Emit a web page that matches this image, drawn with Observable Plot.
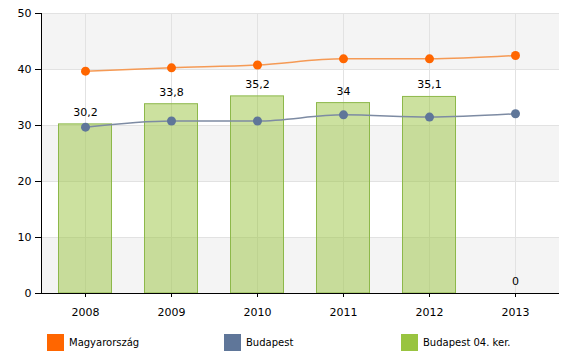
<!DOCTYPE html>
<html><head><meta charset="utf-8">
<script src="https://cdn.jsdelivr.net/npm/d3@7"></script>
<script src="https://cdn.jsdelivr.net/npm/@observablehq/plot@0.6"></script>
<style>
body{margin:0;background:#fff;font-family:"DejaVu Sans",Verdana,sans-serif;}
#wrap{position:relative;width:580px;height:363px;}
#wrap svg{position:absolute;left:0;top:0;}
.leg{position:absolute;top:334px;display:flex;align-items:center;font-size:10px;color:#000;height:17px}
.sw{width:17px;height:17px;margin-right:5px}
</style></head><body><div id="wrap"></div>
<script>
const years = ["2008","2009","2010","2011","2012","2013"];
const magyarorszag = [39.7,40.3,40.8,41.9,41.9,42.5];
const budapest = [29.7,30.8,30.8,31.9,31.5,32.1];
const kerulet = [30.2,33.8,35.2,34,35.1,0];
const yTicks = [0,10,20,30,40,50];
const seriesNames = ["Magyarország","Budapest","Budapest 04. ker."];
const seriesColors = ["#ff6600","#5f7699","#99c440"];
const legendX = [47,224,401];

const rows = years.map((y,i)=>({year:y, hu:magyarorszag[i], bp:budapest[i], ker:kerulet[i]}));
const bands = yTicks.slice(0,-1).filter((d,i)=>i%2===0).map(d=>({y1:d,y2:yTicks[yTicks.indexOf(d)+1]}));
const fmt = d => String(d).replace(".", ",");

const chart = Plot.plot({
  width:580, height:325,
  marginTop:13, marginBottom:32, marginLeft:41, marginRight:21,
  style:{fontFamily:"DejaVu Sans, Verdana, sans-serif", background:"transparent", overflow:"visible"},
  x:{type:"band", domain:years, padding:0, label:null},
  y:{domain:[0,50], label:null},
  marks:[
    Plot.rectY(bands,{y1:"y1", y2:"y2", fill:"#f4f4f4"}),
    Plot.ruleY(yTicks,{stroke:"#e2e2e2", strokeWidth:1}),
    Plot.ruleX(years,{x:d=>d, stroke:"#e2e2e2", strokeWidth:1}),
    Plot.barY(rows,{x:"year", y:"ker", fill:"#99c440", fillOpacity:0.5, stroke:"#8db84a", strokeWidth:1, insetLeft:16.5, insetRight:16.5}),
    Plot.line(rows,{x:"year", y:"hu", stroke:"#f59a55", strokeWidth:1.5, curve:"monotone-x"}),
    Plot.line(rows,{x:"year", y:"bp", stroke:"#7d8ba3", strokeWidth:1.5, curve:"monotone-x"}),
    Plot.dot(rows,{x:"year", y:"hu", r:4.5, fill:seriesColors[0], stroke:null}),
    Plot.dot(rows,{x:"year", y:"bp", r:4.5, fill:seriesColors[1], stroke:null}),
    Plot.text(rows,{x:"year", y:"ker", text:d=>fmt(d.ker), dy:-12, fontSize:11, fill:"#000"}),
    Plot.axisY({ticks:yTicks, tickSize:6, tickPadding:4, fontSize:11, color:"#000", label:null}),
    Plot.axisX({tickSize:4, tickPadding:11, fontSize:11, color:"#000", label:null}),
    Plot.ruleY([0],{stroke:"#000", strokeWidth:1}),
    Plot.frame({anchor:"left", stroke:"#000"})
  ]
});
const wrap = document.getElementById("wrap");
wrap.appendChild(chart);
seriesNames.forEach((n,i)=>{
  const d=document.createElement("div");
  d.className="leg"; d.style.left=legendX[i]+"px";
  const s=document.createElement("div"); s.className="sw"; s.style.background=seriesColors[i];
  const t=document.createElement("span"); t.textContent=n;
  d.appendChild(s); d.appendChild(t); wrap.appendChild(d);
});
</script></body></html>
